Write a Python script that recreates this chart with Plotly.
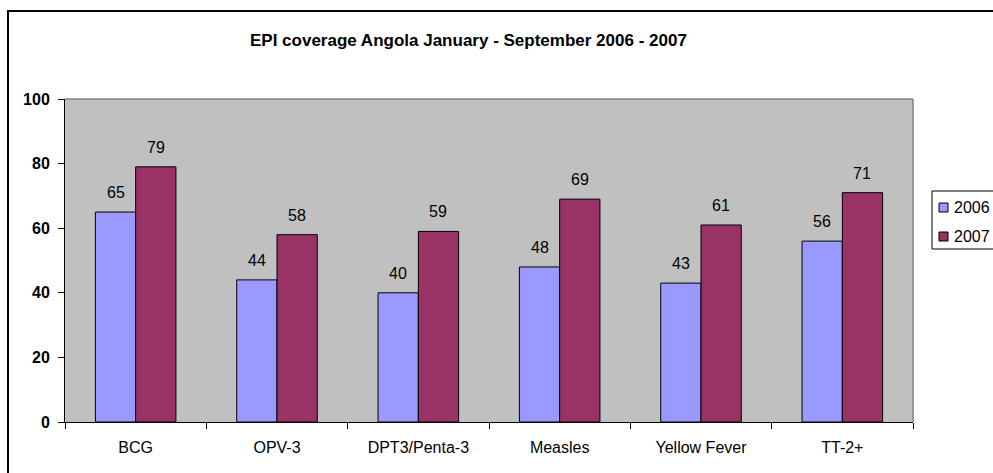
import plotly.graph_objects as go

categories = ["BCG", "OPV-3", "DPT3/Penta-3", "Measles", "Yellow Fever", "TT-2+"]
series_names = ["2006", "2007"]
values_2006 = [65, 44, 40, 48, 43, 56]
values_2007 = [79, 58, 59, 69, 61, 71]
y_ticks = [0, 20, 40, 60, 80, 100]
title_text = "EPI coverage Angola January - September 2006 - 2007"

FONT = "Arial, Liberation Sans, sans-serif"
colors = ["#9999FF", "#993366"]

# screen-pixel helpers (plot area spans x 65..913, y 99..422 on screen)
PX0, PX1, PY0, PY1 = 65, 913, 422, 99
def px(x):
    return (x - PX0) / (PX1 - PX0)
def py(y):
    return (PY0 - y) / (PY0 - PY1)

fig = go.Figure()
for name, vals, col in zip(series_names, [values_2006, values_2007], colors):
    fig.add_trace(go.Bar(
        x=categories, y=vals, name=name, showlegend=False,
        marker=dict(color=col, line=dict(color="black", width=1)),
    ))

annotations = []
for vals, shift in [(values_2006, -20), (values_2007, 20)]:
    for c, v in zip(categories, vals):
        annotations.append(dict(
            x=c, y=v, xref="x", yref="y", text=str(v), showarrow=False,
            xshift=shift, yshift=9, yanchor="bottom",
            font=dict(family=FONT, size=16, color="black"),
        ))

annotations.append(dict(
    x=px(468), y=py(41), xref="paper", yref="paper",
    text="<b>" + title_text + "</b>", showarrow=False,
    xanchor="center", yanchor="middle",
    font=dict(family=FONT, size=17, color="black"),
))

shapes = [
    dict(type="rect", xref="paper", yref="paper",
         x0=px(8), x1=px(1010), y0=py(490), y1=py(11),
         line=dict(color="black", width=2), fillcolor="rgba(0,0,0,0)"),
    dict(type="line", xref="paper", yref="paper", x0=0, x1=1, y0=1, y1=1,
         line=dict(color="#808080", width=1.5)),
    dict(type="line", xref="paper", yref="paper", x0=1, x1=1, y0=0, y1=1,
         line=dict(color="#808080", width=1.5)),
    # legend box
    dict(type="rect", xref="paper", yref="paper",
         x0=px(932), x1=px(1010), y0=py(249), y1=py(191),
         line=dict(color="black", width=1), fillcolor="white"),
]

# legend entries (symbol squares + labels)
for i, (name, col) in enumerate(zip(series_names, colors)):
    cy = 207 + i * 29
    shapes.append(dict(
        type="rect", xref="paper", yref="paper",
        x0=px(939), x1=px(948), y0=py(cy + 5), y1=py(cy - 4),
        line=dict(color="black", width=1), fillcolor=col,
    ))
    annotations.append(dict(
        x=px(952), y=py(cy), xref="paper", yref="paper", text=name,
        showarrow=False, xanchor="left", yanchor="middle",
        font=dict(family=FONT, size=16, color="black"),
    ))

fig.update_layout(
    width=993, height=473,
    margin=dict(l=65, r=80, t=99, b=51, autoexpand=False),
    paper_bgcolor="white",
    plot_bgcolor="#C0C0C0",
    barmode="group",
    bargap=0.43,
    bargroupgap=0,
    font=dict(family=FONT, size=16, color="black"),
    showlegend=False,
    annotations=annotations,
    shapes=shapes,
)

fig.update_xaxes(
    showline=True, linecolor="black", linewidth=1,
    ticks="outside", tickson="boundaries", ticklen=6, tickcolor="black",
    showgrid=False, tickfont=dict(family=FONT, size=16),
    ticklabelstandoff=11,
)
fig.update_yaxes(
    range=[0, 100], tickvals=y_ticks,
    ticktext=["<b>%d</b>" % t for t in y_ticks],
    showline=True, linecolor="black", linewidth=1,
    ticks="outside", ticklen=6, tickcolor="black",
    showgrid=False, zeroline=False,
    tickfont=dict(family=FONT, size=16),
    ticklabelstandoff=5,
)

fig.write_html(
    "out.html",
    config={"displayModeBar": False},
    post_script="document.body.style.margin='0';document.body.style.overflow='hidden';",
)
